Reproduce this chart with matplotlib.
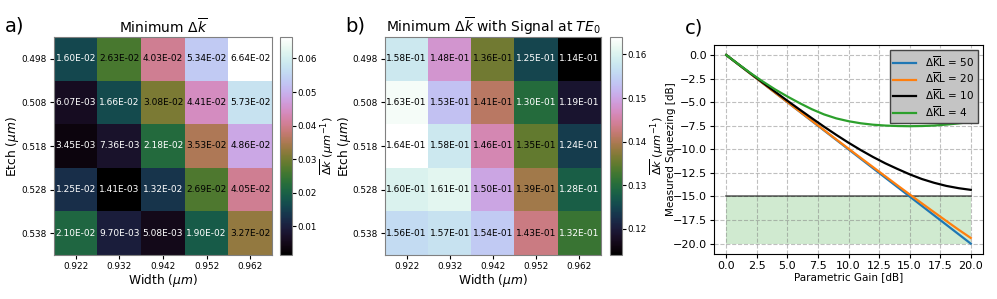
import numpy as np
import matplotlib
matplotlib.use("Agg")
import matplotlib.pyplot as plt

widths = ["0.922", "0.932", "0.942", "0.952", "0.962"]
etches = ["0.498", "0.508", "0.518", "0.528", "0.538"]

# minimum delta k (panel a)
dk_min = np.array([
    [1.60e-02, 2.63e-02, 4.03e-02, 5.34e-02, 6.64e-02],
    [6.07e-03, 1.66e-02, 3.08e-02, 4.41e-02, 5.73e-02],
    [3.45e-03, 7.36e-03, 2.18e-02, 3.53e-02, 4.86e-02],
    [1.25e-02, 1.41e-03, 1.32e-02, 2.69e-02, 4.05e-02],
    [2.10e-02, 9.70e-03, 5.08e-03, 1.90e-02, 3.27e-02],
])

# minimum delta k with signal at TE0 (panel b)
dk_te0 = np.array([
    [1.58e-01, 1.48e-01, 1.36e-01, 1.25e-01, 1.14e-01],
    [1.63e-01, 1.53e-01, 1.41e-01, 1.30e-01, 1.19e-01],
    [1.64e-01, 1.58e-01, 1.46e-01, 1.35e-01, 1.24e-01],
    [1.60e-01, 1.61e-01, 1.50e-01, 1.39e-01, 1.28e-01],
    [1.56e-01, 1.57e-01, 1.54e-01, 1.43e-01, 1.32e-01],
])

# squeezing vs gain (panel c)
gain = list(range(0, 21))
sq_50 = [0, -1, -2, -3, -4, -5, -6, -7, -8, -9, -10, -11, -12, -13, -14, -15,
         -16, -17, -18, -19, -20]
sq_20 = [0, -1, -2, -3, -4, -4.99, -5.98, -6.97, -7.96, -8.95, -9.93, -10.91,
         -11.88, -12.85, -13.82, -14.78, -15.73, -16.67, -17.6, -18.52, -19.4]
sq_10 = [0, -0.99, -1.97, -2.94, -3.9, -4.85, -5.78, -6.7, -7.6, -8.47, -9.3,
         -10.08, -10.81, -11.48, -12.08, -12.65, -13.15, -13.55, -13.88, -14.12, -14.3]
sq_4 = [0, -0.98, -1.93, -2.82, -3.65, -4.4, -5.1, -5.75, -6.3, -6.72, -7.02,
        -7.24, -7.39, -7.48, -7.53, -7.55, -7.53, -7.48, -7.38, -7.25, -7.1]
sq_labels = [r"$\Delta\overline{\mathrm{K}}\mathrm{L}$ = 50", r"$\Delta\overline{\mathrm{K}}\mathrm{L}$ = 20",
             r"$\Delta\overline{\mathrm{K}}\mathrm{L}$ = 10", r"$\Delta\overline{\mathrm{K}}\mathrm{L}$ = 4"]
sq_colors = ["tab:blue", "tab:orange", "black", "tab:green"]

fig = plt.figure(figsize=(9.97, 2.99), dpi=100)
W, H = 997.0, 299.0


def heatmap(ax, cax, data, title, ticks):
    cmap = plt.get_cmap("cubehelix")
    vmin, vmax = data.min(), data.max()
    im = ax.imshow(data, cmap=cmap, vmin=vmin, vmax=vmax, aspect="auto")
    for i in range(data.shape[0]):
        for j in range(data.shape[1]):
            r, g, b, _ = cmap((data[i, j] - vmin) / (vmax - vmin))
            lum = 0.2126 * r + 0.7152 * g + 0.0722 * b
            ax.text(j, i, "%.2E" % data[i, j], ha="center", va="center",
                    fontsize=6.5, color="black" if lum > 0.408 else "white")
    ax.set_xticks(range(len(widths)))
    ax.set_xticklabels(widths)
    ax.set_yticks(range(len(etches)))
    ax.set_yticklabels(etches)
    ax.tick_params(labelsize=6.4, length=3, pad=2)
    ax.set_xlabel(r"Width ($\mu m$)", fontsize=8.8, labelpad=1)
    ax.set_ylabel(r"Etch ($\mu m$)", fontsize=8.8)
    ax.yaxis.set_label_coords(-0.15, 0.5)
    ax.set_title(title, fontsize=10, pad=2)
    for s in ax.spines.values():
        s.set_color("gray")
    cb = fig.colorbar(im, cax=cax, ticks=ticks)
    cb.outline.set_edgecolor("gray")
    cb.ax.tick_params(labelsize=6.3, length=3, pad=1)
    cb.set_label(r"$\overline{\Delta k}$ ($\mu m^{-1}$)", fontsize=8.2)
    cb.ax.yaxis.set_label_coords(3.2, 0.5)


ax1 = fig.add_axes([54 / W, 1 - 255 / H, 218 / W, 218 / H])
cax1 = fig.add_axes([280 / W, 1 - 255 / H, 12 / W, 218 / H])
heatmap(ax1, cax1, dk_min, r"Minimum $\Delta\overline{k}$",
        [0.01, 0.02, 0.03, 0.04, 0.05, 0.06])

ax2 = fig.add_axes([385 / W, 1 - 255 / H, 216 / W, 218 / H])
cax2 = fig.add_axes([610 / W, 1 - 255 / H, 12 / W, 218 / H])
heatmap(ax2, cax2, dk_te0, r"Minimum $\Delta\overline{k}$ with Signal at $TE_0$",
        [0.12, 0.13, 0.14, 0.15, 0.16])

ax3 = fig.add_axes([714 / W, 1 - 254 / H, 269 / W, 209 / H])
ax3.fill_between([0, 20], -20, -15, color="tab:green", alpha=0.22, linewidth=0)
ax3.plot([0, 20], [-15, -15], color="black", alpha=0.6, linewidth=1.2)
for ys, lab, c in zip([sq_50, sq_20, sq_10, sq_4], sq_labels, sq_colors):
    ax3.plot(gain, ys, color=c, label=lab, linewidth=1.6)
ax3.set_xlim(-1, 21)
ax3.set_ylim(-21.1, 1.06)
ax3.set_xticks(np.arange(0, 20.1, 2.5))
ax3.set_yticks(np.arange(-20, 0.1, 2.5))
ax3.tick_params(labelsize=8, length=3, pad=2)
ax3.grid(linestyle="--", color="gray", alpha=0.5)
ax3.set_xlabel("Parametric Gain [dB]", fontsize=7.5, labelpad=1)
ax3.set_ylabel("Measured Squeezing [dB]", fontsize=7.5)
ax3.yaxis.set_label_coords(-0.141, 0.5)
leg = ax3.legend(loc="upper right", fontsize=7.5, facecolor="#c4c4c4", framealpha=1,
                 edgecolor="#444444", fancybox=False, borderpad=0.35, labelspacing=0.2,
                 handlelength=2.2)

fig.text(5 / W, 1 - 26 / H, "a)", fontsize=14, va="center")
fig.text(345 / W, 1 - 26 / H, "b)", fontsize=14, va="center")
fig.text(685 / W, 1 - 28 / H, "c)", fontsize=14, va="center")

fig.savefig("out.png", dpi=100)
